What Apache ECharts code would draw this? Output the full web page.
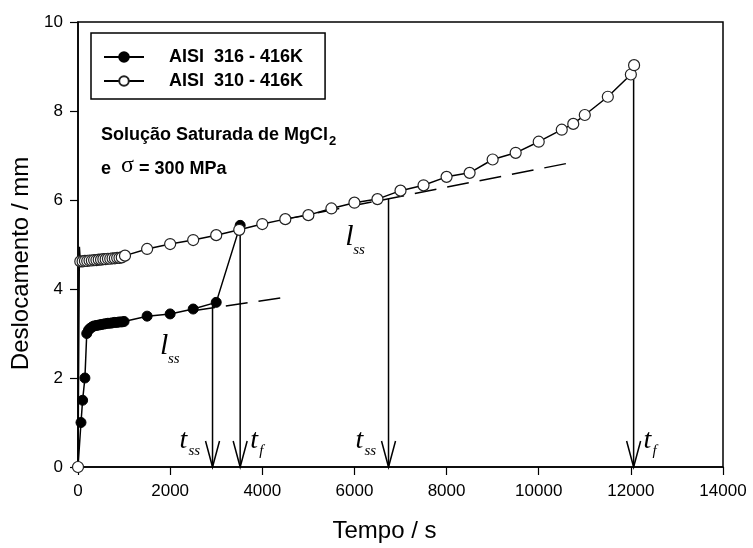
<!DOCTYPE html>
<html><head><meta charset="utf-8">
<script src="https://cdn.jsdelivr.net/npm/echarts@6/dist/echarts.min.js"></script>
<style>html,body{margin:0;padding:0;background:#fff}#c{width:753px;height:548px}</style>
</head><body><div id="c"></div>
<script>
// ---- axes ----
const xMin = 0, xMax = 14000, xStep = 2000;
const yMin = 0, yMax = 10, yStep = 2;
const xTitle = 'Tempo / s';
const yTitle = 'Deslocamento / mm';

// ---- series: AISI 316 - 416K (filled) ----
const name316 = 'AISI  316 - 416K';
const t316 = [0, 65, 100, 150, 190, 230, 270, 310, 350, 400, 450, 500, 550, 600, 650, 700, 750, 800, 850, 900, 950, 1000, 1500, 2000, 2500, 3000, 3520];
const d316 = [0, 1.0, 1.5, 2.0, 3.0, 3.08, 3.12, 3.15, 3.17, 3.18, 3.19, 3.2, 3.21, 3.22, 3.23, 3.23, 3.24, 3.25, 3.25, 3.26, 3.26, 3.27, 3.39, 3.44, 3.55, 3.70, 5.43];

// ---- series: AISI 310 - 416K (open) ----
const name310 = 'AISI  310 - 416K';
const t310 = [0, 30, 50, 100, 150, 200, 250, 300, 350, 400, 450, 500, 550, 600, 650, 700, 750, 800, 850, 900, 950, 1020, 1500, 2000, 2500, 3000, 3500, 4000, 4500, 5000, 5500, 6000, 6500, 7000, 7500, 8000, 8500, 9000, 9500, 10000, 10500, 10750, 11000, 11500, 12000, 12070];
const d310 = [0, 4.95, 4.62, 4.62, 4.63, 4.63, 4.64, 4.64, 4.65, 4.65, 4.66, 4.66, 4.67, 4.67, 4.68, 4.68, 4.69, 4.69, 4.70, 4.70, 4.71, 4.75, 4.90, 5.01, 5.10, 5.21, 5.33, 5.46, 5.57, 5.66, 5.81, 5.94, 6.02, 6.21, 6.33, 6.52, 6.61, 6.91, 7.06, 7.31, 7.58, 7.71, 7.91, 8.32, 8.82, 9.03];
const hiddenMark310 = [1]; // the spike point has no marker

// ---- steady-state fit lines (dashed) ----
const fit316T = [2500, 4400];
const fit316D = [3.51, 3.80];
const fit310T = [4500, 10650];
const fit310D = [5.57, 6.83];

// ---- arrows (t_ss / t_f) ----
const arrowT = [2920, 3520, 6740, 12060];
const arrowTop = [3.68, 5.43, 6.03, 9.03];
const arrowSub = ['ss', 'f', 'ss', 'f'];
const arrowSide = ['left', 'right', 'left', 'right'];

// ---- l_ss labels ----
const lssT = [1780, 5800];
const lssD = [2.71, 5.16];

// ---- note ----
const noteLine1 = 'Solução Saturada de MgCl';
const noteSub1 = '2';
const noteLine2a = 'e  ';
const noteSigma = 'σ';
const noteLine2b = ' = 300 MPa';

const zip = (a, b) => a.map((v, i) => [v, b[i]]);
const SANS = '"Liberation Sans", Arial, sans-serif';
const SERIF = '"Liberation Serif", "Times New Roman", serif';

const chart = echarts.init(document.getElementById('c'), null, {renderer: 'canvas'});

const data310 = zip(t310, d310).map((p, i) => hiddenMark310.includes(i) ? {value: p, symbol: 'none'} : p);

function arrowItem(params, api) {
  const x = api.value(0), top = api.value(1);
  const i = params.dataIndex;
  const p0 = api.coord([x, top]);
  const p1 = api.coord([x, 0]);
  const bx = p1[0], by = p1[1];
  const kids = [
    {type: 'line', shape: {x1: p0[0], y1: p0[1], x2: bx, y2: by}, style: {stroke: '#000', lineWidth: 1.5}},
    {type: 'polyline', shape: {points: [[bx - 7, by - 26], [bx, by], [bx + 7, by - 26]]}, style: {stroke: '#000', fill: null, lineWidth: 1.5}}
  ];
  const sub = arrowSub[i];
  if (arrowSide[i] === 'left') {
    kids.push({type: 'text', x: bx - 33, y: by - 26, style: {text: 't', font: 'italic 28px ' + SERIF, fill: '#000', verticalAlign: 'middle', align: 'left'}});
    kids.push({type: 'text', x: bx - 24, y: by - 16, style: {text: sub, font: 'italic 15px ' + SERIF, fill: '#000', verticalAlign: 'middle', align: 'left'}});
  } else {
    kids.push({type: 'text', x: bx + 10, y: by - 26, style: {text: 't', font: 'italic 28px ' + SERIF, fill: '#000', verticalAlign: 'middle', align: 'left'}});
    kids.push({type: 'text', x: bx + 19, y: by - 16, style: {text: sub, font: 'italic 15px ' + SERIF, fill: '#000', verticalAlign: 'middle', align: 'left'}});
  }
  return {type: 'group', children: kids};
}

function lssItem(params, api) {
  const p = api.coord([api.value(0), api.value(1)]);
  return {type: 'group', children: [
    {type: 'text', x: p[0], y: p[1], style: {text: 'l', font: 'italic 30px ' + SERIF, fill: '#000', verticalAlign: 'middle', align: 'left'}},
    {type: 'text', x: p[0] + 8, y: p[1] + 13, style: {text: 'ss', font: 'italic 15px ' + SERIF, fill: '#000', verticalAlign: 'middle', align: 'left'}}
  ]};
}

chart.setOption({
  animation: false,
  backgroundColor: '#fff',
  grid: {left: 78, right: 30, top: 22, bottom: 76, show: true, borderColor: '#000', borderWidth: 1.5, backgroundColor: 'transparent'},
  legend: {
    data: [name316, name310],
    orient: 'vertical',
    left: 91, top: 33,
    padding: [15, 22, 9, 12],
    itemGap: 6,
    itemWidth: 40, itemHeight: 12,
    borderColor: '#000', borderWidth: 1.5,
    textStyle: {fontFamily: SANS, fontSize: 18, fontWeight: 'bold', color: '#000', padding: [0, 0, 0, 20], width: 150}
  },
  xAxis: {
    type: 'value', min: xMin, max: xMax, interval: xStep,
    name: xTitle, nameLocation: 'middle', nameGap: 52,
    nameTextStyle: {fontFamily: SANS, fontSize: 24, color: '#000', padding: [0, 32, 0, 0]},
    axisLine: {show: true, onZero: false, lineStyle: {color: '#000', width: 1.5}},
    axisTick: {show: true, inside: false, length: 8, lineStyle: {color: '#000', width: 1.2}},
    axisLabel: {fontFamily: SANS, fontSize: 17, color: '#000', margin: 16, formatter: v => String(v)},
    splitLine: {show: false}
  },
  yAxis: {
    type: 'value', min: yMin, max: yMax, interval: yStep,
    name: yTitle, nameLocation: 'middle', nameGap: 42,
    nameTextStyle: {fontFamily: SANS, fontSize: 24, color: '#000', padding: [0, 38, 0, 0]},
    axisLine: {show: true, onZero: false, lineStyle: {color: '#000', width: 1.5}},
    axisTick: {show: true, inside: false, length: 8, lineStyle: {color: '#000', width: 1.2}},
    axisLabel: {fontFamily: SANS, fontSize: 17, color: '#000', margin: 15, formatter: v => String(v)},
    splitLine: {show: false}
  },
  graphic: [
    {type: 'text', left: 101, top: 126, style: {
      text: '{a|' + noteLine1 + '}{s|' + noteSub1 + '}',
      rich: {
        a: {fontFamily: SANS, fontSize: 18, fontWeight: 'bold', fill: '#000', verticalAlign: 'bottom', lineHeight: 22},
        s: {fontFamily: SANS, fontSize: 13, fontWeight: 'bold', fill: '#000', verticalAlign: 'bottom', lineHeight: 22, padding: [0, 0, -4, 1]}
      }}},
    {type: 'text', left: 101, top: 154, style: {
      text: '{a|' + noteLine2a + '}{g|' + noteSigma + '}{a|' + noteLine2b + '}',
      rich: {
        a: {fontFamily: SANS, fontSize: 18, fontWeight: 'bold', fill: '#000', verticalAlign: 'bottom', lineHeight: 24},
        g: {fontFamily: SERIF, fontSize: 24, fill: '#000', verticalAlign: 'bottom', lineHeight: 24}
      }}}
  ],
  series: [
    {
      name: name316, type: 'line', data: zip(t316, d316), z: 3,
      symbol: 'circle', symbolSize: 10, showAllSymbol: true,
      lineStyle: {color: '#000', width: 1.5},
      itemStyle: {color: '#000', borderColor: '#000', borderWidth: 1}
    },
    {
      name: name310, type: 'line', data: data310, z: 4,
      symbol: 'circle', symbolSize: 11, showAllSymbol: true,
      lineStyle: {color: '#000', width: 1.5},
      itemStyle: {color: '#fff', borderColor: '#222', borderWidth: 1.2}
    },
    {
      type: 'line', data: zip(fit316T, fit316D), symbol: 'none', silent: true, z: 2,
      lineStyle: {color: '#000', width: 1.5, type: [22, 11]}
    },
    {
      type: 'line', data: zip(fit310T, fit310D), symbol: 'none', silent: true, z: 2,
      lineStyle: {color: '#000', width: 1.5, type: [22, 11]}
    },
    {
      type: 'custom', data: zip(arrowT, arrowTop), renderItem: arrowItem, silent: true, z: 1, clip: false
    },
    {
      type: 'custom', data: zip(lssT, lssD), renderItem: lssItem, silent: true, z: 1, clip: false
    }
  ]
});
</script>
</body></html>
